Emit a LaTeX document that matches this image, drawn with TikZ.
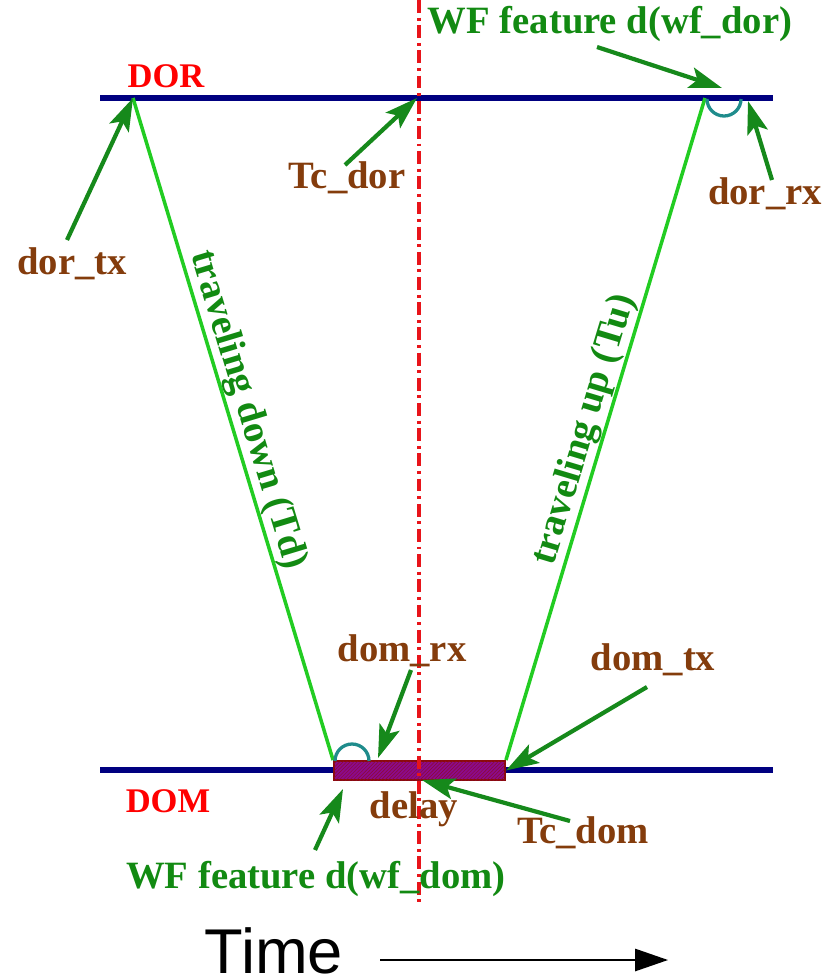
\documentclass[tikz,border=0pt]{standalone}
\usepackage{fontspec}
\setmainfont{Liberation Serif}
\newfontfamily\axisfont{Liberation Sans}
\usetikzlibrary{arrows.meta,patterns}
\definecolor{navyline}{HTML}{000080}
\definecolor{labelbrown}{HTML}{843C0C}
\definecolor{labelgreen}{HTML}{128A12}
\definecolor{arrowgreen}{HTML}{16891B}
\definecolor{pathgreen}{HTML}{22CC22}
\definecolor{axisred}{HTML}{E8141A}
\definecolor{arcteal}{HTML}{1F8C8C}
\definecolor{delayfill}{HTML}{8C0A8C}
\definecolor{delayedge}{HTML}{8B0A0A}

\tikzset{
  tlabel/.style={font=\fontsize{33}{36}\selectfont\bfseries, text=labelbrown, inner sep=0pt, anchor=base},
  wflabel/.style={tlabel, text=labelgreen},
  modlabel/.style={font=\fontsize{29.5}{32}\selectfont\bfseries, text=red, inner sep=0pt, anchor=base},
  cable/.style={navyline, line width=4.8pt},
  signal/.style={pathgreen, line width=3pt},
  pointer/.style={arrowgreen, line width=3.6pt, -{Stealth[length=28pt,width=18pt,inset=6pt]}},
  wfarc/.style={arcteal, line width=2.8pt},
  clockline/.style={axisred, line width=3pt, dash pattern=on 11pt off 4pt on 2.5pt off 4pt}
}

\begin{document}
\begin{tikzpicture}[x=0.03cm, y=-0.03cm]
  \useasboundingbox (0,0) rectangle (834,975);

  % the two cables
  \coordinate (dorW) at (100,98);
  \coordinate (dorE) at (773,98);
  \coordinate (domW) at (100,770);
  \coordinate (domE) at (773,770);
  \draw[cable] (dorW) -- (dorE);
  \draw[cable] (domW) -- (domE);
  \node[modlabel] (dor) at (166,87) {DOR};
  \node[modlabel] (dom) at (168,812) {DOM};

  % delay box on DOM
  \node (delaybox) at (419.5,770.5) [draw=delayedge, line width=1.6pt, fill=delayfill,
    postaction={pattern=north east lines, pattern color=delayedge!70!delayfill},
    minimum width=5.13cm, minimum height=0.57cm, inner sep=0pt] {};

  % time centre line
  \coordinate (ctop) at (419,0);
  \coordinate (cbot) at (419,905);
  \draw[clockline] (ctop) -- (cbot);

  % signal paths
  \coordinate (dortx) at (133,98);
  \coordinate (dorrx) at (705,98);
  \draw[signal] (dortx) -- (delaybox.north west)
    node[pos=0.48, sloped, above, inner sep=9pt, wflabel, anchor=south] (down) {traveling down (Td)};
  \draw[signal] (delaybox.north east) -- (dorrx)
    node[pos=0.49, sloped, above, inner sep=7pt, wflabel, anchor=south] (up) {traveling up (Tu)};

  % waveform features
  \draw[wfarc] (707,99) arc[start angle=180, end angle=0, radius=17];
  \draw[wfarc] (335,761) arc[start angle=180, end angle=360, radius=17];

  % labels
  \node[tlabel] (ldortx) at (72,274) {dor\_tx};
  \node[tlabel] (ltcdor) at (347,188) {Tc\_dor};
  \node[tlabel] (ldorrx) at (765,204) {dor\_rx};
  \node[wflabel] (lwfdor) at (610,33) {WF feature d(wf\_dor)};
  \node[tlabel] (ldomrx) at (402,661) {dom\_rx};
  \node[tlabel] (ldomtx) at (653,670) {dom\_tx};
  \node[tlabel] (ldelay) at (414,818) {delay};
  \node[tlabel] (ltcdom) at (583,843) {Tc\_dom};
  \node[wflabel] (lwfdom) at (316,888) {WF feature d(wf\_dom)};

  % pointers
  \coordinate (p1) at (67,240);
  \coordinate (p2) at (345,165);
  \coordinate (p3) at (597,47);
  \coordinate (p4) at (772,180);
  \coordinate (p5) at (411,670);
  \coordinate (p6) at (647,687);
  \coordinate (p7) at (570,821);
  \coordinate (p8) at (315,850);
  \draw[pointer] (p1) -- (dortx);
  \draw[pointer] (p2) -- (417,98);
  \draw[pointer] (p3) -- (722,88);
  \draw[pointer] (p4) -- (748,101);
  \draw[pointer] (p5) -- (378,758);
  \draw[pointer] (p6) -- (delaybox.east);
  \draw[pointer] (p7) -- (422,780);
  \draw[pointer] (p8) -- (343,789);

  % time axis
  \node[font=\axisfont\fontsize{54}{60}\selectfont, inner sep=0pt, anchor=base] (time) at (274,973) {Time};
  \coordinate (tstart) at (380,960);
  \coordinate (tend) at (668,960);
  \draw[line width=1.4pt, -{Triangle[length=28pt,width=19pt]}] (tstart) -- (tend);
\end{tikzpicture}
\end{document}
